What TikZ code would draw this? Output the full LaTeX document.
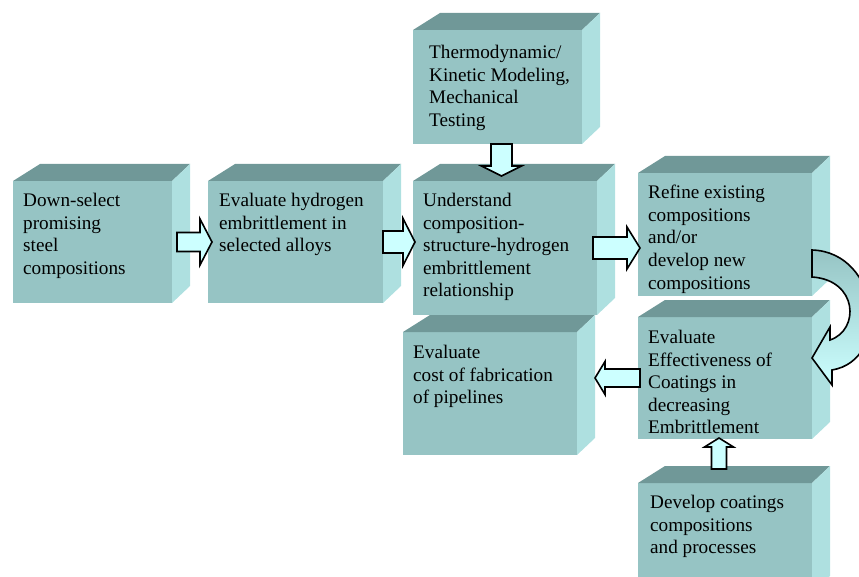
\documentclass[tikz,border=0pt]{standalone}
\usepackage{fontspec}
\setmainfont{Liberation Serif}
\usetikzlibrary{calc}
\definecolor{facefront}{RGB}{150,196,196}
\definecolor{facetop}{RGB}{112,152,152}
\definecolor{faceside}{RGB}{174,224,224}
\definecolor{arrowfill}{RGB}{204,255,255}
\newcommand*{\dpx}{18}
\newcommand*{\dpy}{17}
\newcommand*{\dpl}{27}
\tikzset{
    slabfront/.style={anchor=north west, fill=facefront, inner sep=0pt, outer sep=0pt},
    slabtop/.style={fill=facetop},
    slabside/.style={fill=faceside},
    slabtext/.style={anchor=north west, inner sep=0pt, align=left, font=\rmfamily\fontsize{19.2}{22.6}\selectfont},
    blockarrow/.style={draw=black, fill=arrowfill, line width=1.6pt, line join=miter},
}
% #1 name, #2 corner, #3 width, #4 height, #5 text offset, #6 text
\newcommand*{\slab}[6]{%
    \node [slabfront, minimum width=#3pt, minimum height=#4pt] (#1) at (#2) {};
    \fill [slabtop] (#1.north west) -- ++(\dpl,-\dpy) -- ($(#1.north east)+(\dpx,-\dpy)$) -- (#1.north east) -- cycle;
    \fill [slabside] (#1.north east) -- ++(\dpx,-\dpy) -- ($(#1.south east)+(\dpx,-\dpy)$) -- (#1.south east) -- cycle;
    \node [slabtext] (#1-txt) at ($(#1.north west)+(#5)$) {#6};
}
% #1 start, #2 angle, #3 length, #4 shaft half, #5 head half, #6 head length
\newcommand*{\blkarrow}[6]{%
    \draw [blockarrow, shift={(#1)}, rotate=#2] (0,-#4) -- (#3-#6,-#4) -- (#3-#6,-#5) -- (#3,0)
        -- (#3-#6,#5) -- (#3-#6,#4) -- (0,#4) -- cycle;
}

\begin{document}
\begin{tikzpicture}[x=1pt, y=-1pt]
    \useasboundingbox (0,0) rectangle (859,577);
    \clip (0,0) rectangle (859,577);

    \slab{select}{13,181}{159}{122}{10,12}{Down-select\\promising\\steel\\compositions}
    \slab{evalh}{208,181}{175}{122}{11,12}{Evaluate hydrogen\\embrittlement in\\selected alloys}
    \slab{understand}{413,181}{184}{134}{10,12}{Understand\\composition-\\structure-hydrogen\\embrittlement\\relationship}
    \slab{model}{413,30}{169}{114}{16,15}{Thermodynamic/\\Kinetic Modeling,\\Mechanical\\Testing}
    \slab{refine}{638,173}{174}{123}{10,12}{Refine existing\\compositions\\and/or\\develop new\\compositions}
    \slab{evaleff}{638,317}{174}{122}{10,13}{Evaluate\\Effectiveness of\\Coatings in\\decreasing\\Embrittlement}
    \slab{cost}{403,332}{174}{123}{10,13}{Evaluate\\cost of fabrication\\of pipelines}
    \slab{develop}{638,483}{174}{110}{12,12}{Develop coatings\\compositions\\and processes}

    % block arrows
    \blkarrow{[xshift=5pt]select.east}{0}{35}{9.5}{23}{12}
    \blkarrow{evalh.east}{0}{32}{11}{23.5}{12}
    \blkarrow{[xshift=-4pt]understand.east}{0}{47}{11}{21}{13}
    \blkarrow{[xshift=4pt]model.south}{-90}{32}{10.5}{20}{10}
    \blkarrow{[xshift=-6pt,yshift=14pt]develop.north}{90}{31}{7.5}{14.5}{9}
    \blkarrow{[xshift=2pt]evaleff.west}{180}{45}{9}{16.5}{10}

    % curved arrow refine -> evaleff
    \draw [blockarrow, top color=facefront, bottom color=arrowfill]
        (812,250) .. controls (880,252) and (892,360) .. (832,370) -- (832,385) -- (812,358)
        -- (830,327) -- (830,340) .. controls (860,330) and (858,280) .. (812,277) -- cycle;
\end{tikzpicture}
\end{document}
